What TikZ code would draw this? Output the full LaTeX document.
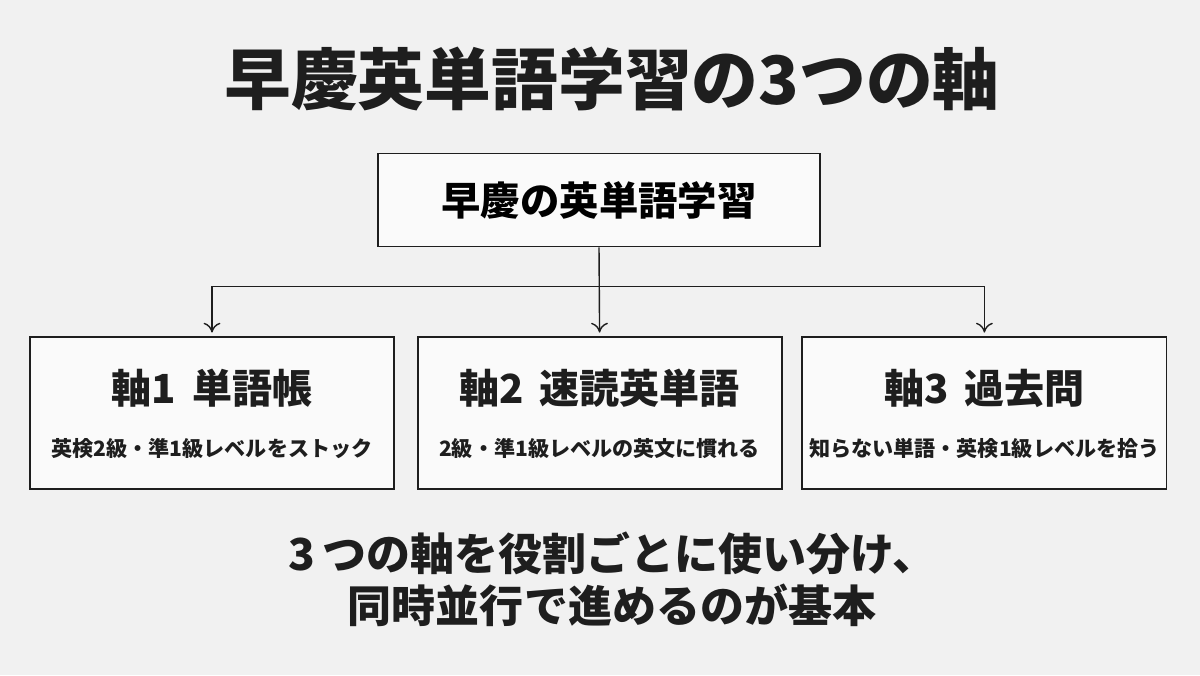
\documentclass[tikz,border=0pt]{standalone}
\usepackage{fontspec}
\setmainfont{Noto Sans CJK JP}
\usepackage{tikz}
\usetikzlibrary{calc,arrows.meta}
\definecolor{bgcol}{HTML}{F1F1F1}
\definecolor{boxcol}{HTML}{FAFAFA}
\definecolor{inkcol}{HTML}{1E1E1E}

\begin{document}
\begin{tikzpicture}[scale=1,
  axisbox/.style={draw=inkcol, line width=1.3pt, fill=boxcol, minimum width=9.1cm, minimum height=3.8cm},
  topbox/.style={draw=inkcol, line width=1.3pt, fill=boxcol, minimum width=11.05cm, minimum height=2.325cm, font=\fontsize{28}{32}\selectfont\bfseries},
  axtitle/.style={text=inkcol, font=\fontsize{28.5}{32}\selectfont\bfseries},
  axsub/.style={text=inkcol, font=\fontsize{15}{18}\selectfont\bfseries},
  link/.style={draw=inkcol, line width=1pt},
  tip/.style={-{To[length=7pt,width=12pt]}, shorten >=2.5pt}]
\fill[bgcol] (0,0) rectangle (30,16.875);
\node[text=inkcol, font=\fontsize{47.5}{54}\selectfont\bfseries] (title) at (15.3,14.9) {早慶英単語学習の3つの軸};
\node[topbox] (top) at (14.975,11.875) {早慶の英単語学習};
% three axes
\node[axisbox] (ax1) at (5.3,6.55) {};
\node[axisbox] (ax2) at (14.99,6.55) {};
\node[axisbox] (ax3) at (24.61,6.55) {};
\node[axtitle] (t1) at ($(ax1.center)+(0,0.62)$) {軸1\hspace{0.4em}単語帳};
\node[axtitle] (t2) at ($(ax2.center)+(0,0.62)$) {軸2\hspace{0.4em}速読英単語};
\node[axtitle] (t3) at ($(ax3.center)+(0,0.62)$) {軸3\hspace{0.4em}過去問};
\node[axsub] (s1) at ($(ax1.center)+(0,-0.88)$) {英検2級・準1級レベルをストック};
\node[axsub] (s2) at ($(ax2.center)+(0,-0.88)$) {2級・準1級レベルの英文に慣れる};
\node[axsub] (s3) at ($(ax3.center)+(0,-0.88)$) {知らない単語・英検1級レベルを拾う};
% connectors
\coordinate (split) at ($(top.south)+(0,-0.975)$);
\draw[link,tip] (top.south) -- (ax2.north);
\draw[link,tip] (split) -| (ax1.north);
\draw[link,tip] (split) -| (ax3.north);
% summary
\node[text=inkcol, align=center, font=\fontsize{31.3}{37}\selectfont\bfseries] (sum) at (15.3,2.4) {3\,つの軸を役割ごとに使い分け、\\同時並行で進めるのが基本};
\end{tikzpicture}
\end{document}
